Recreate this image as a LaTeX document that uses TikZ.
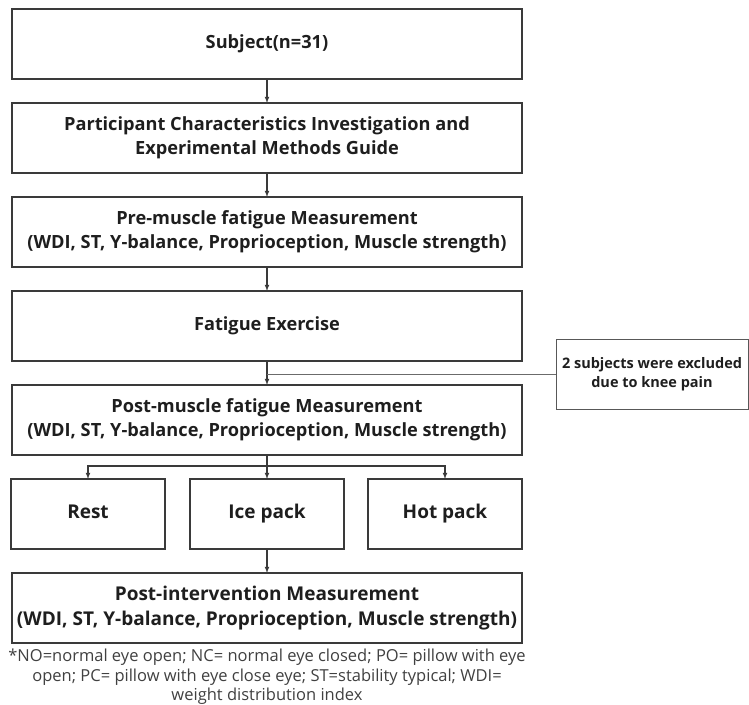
\documentclass[tikz,border=0pt]{standalone}
\usepackage{fontspec}
\setmainfont{Open Sans}
\usepackage{tikz}
\usetikzlibrary{positioning}
\definecolor{lineg}{HTML}{3A3A3A}
\definecolor{txt}{HTML}{1E1E1E}

\begin{document}
\begin{tikzpicture}[
x=1pt, y=1pt,
node distance=24pt,
box/.style={draw=lineg, line width=1.3pt, text=txt, align=center, inner sep=0, outer sep=0,
  minimum width=510pt, minimum height=70pt, font=\bfseries\fontsize{18.2}{24}\selectfont},
thickbox/.style={box, line width=2.4pt},
armbox/.style={box, minimum width=154pt, text height=13pt, text depth=4pt, font=\bfseries\fontsize{19}{24}\selectfont},
exbox/.style={box, draw=lineg!85, line width=1pt, minimum width=192pt, font=\bfseries\fontsize{14.5}{19}\selectfont},
arr/.style={-latex, draw=lineg, line width=1.1pt}
]
\useasboundingbox (0,0) rectangle (749,-704);
% Main column
\node[box, anchor=north west] (subj) at (12,-9) {Subject(n=31)};
\node[box, below=of subj] (guide) {Participant Characteristics Investigation and\\Experimental Methods Guide};
\node[thickbox, below=of guide] (pre) {Pre-muscle fatigue Measurement\\(WDI, ST, Y-balance, Proprioception, Muscle strength)};
\node[box, below=of pre] (fat) {Fatigue Exercise};
\node[thickbox, below=of fat] (post) {Post-muscle fatigue Measurement\\(WDI, ST, Y-balance, Proprioception, Muscle strength)};
% Interventions
\node[armbox, below=of post] (ice) {Ice pack};
\node[armbox, left=25pt of ice] (rest) {Rest};
\node[armbox, right=24pt of ice] (hot) {Hot pack};
\node[box, below=of ice, font=\bfseries\fontsize{19}{25}\selectfont] (inter) {Post-intervention Measurement\\(WDI, ST, Y-balance, Proprioception, Muscle strength)};
\node[below=6pt of inter, inner sep=0, align=center, text=txt!85, font=\fontsize{16.5}{19.5}\selectfont] (note)
  {*NO=normal eye open; NC= normal eye closed; PO= pillow with eye\\open; PC= pillow with eye close eye; ST=stability typical; WDI=\\weight distribution index};

\draw[arr] (subj) -- (guide);
\draw[arr] (guide) -- (pre);
\draw[arr] (pre) -- (fat);
\draw[arr] (fat) -- coordinate[pos=0.55] (j) (post);
% Exclusion
\node[exbox, right=289pt of j] (excl) {2 subjects were excluded\\due to knee pain};
\draw[draw=lineg!75, line width=0.8pt] (j) -- (excl);
% Branches
\draw[draw=lineg, line width=1.1pt] (post.south) -- ++(0,-11) coordinate (br);
\draw[arr] (br) -| (rest);
\draw[arr] (br) -| (hot);
\draw[arr] (br) -- (ice);
\draw[arr] (ice) -- (inter);
\end{tikzpicture}
\end{document}
